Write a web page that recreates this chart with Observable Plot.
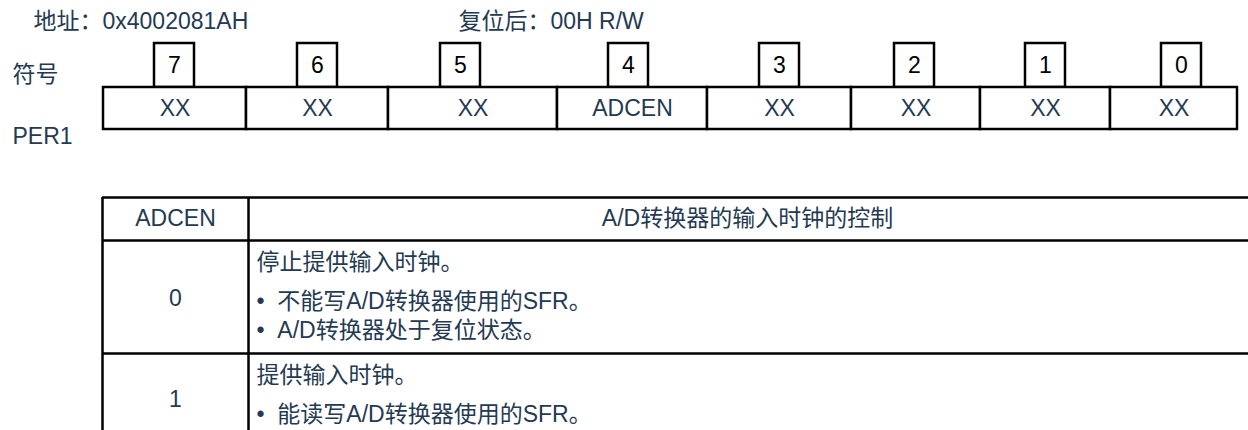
<!DOCTYPE html>
<html>
<head>
<meta charset="utf-8">
<script src="https://cdn.jsdelivr.net/npm/d3@7"></script>
<script src="https://cdn.jsdelivr.net/npm/@observablehq/plot@0.6"></script>
<style>
  html, body { margin: 0; padding: 0; background: #ffffff; }
  #chart { width: 1248px; height: 430px; overflow: hidden; }
</style>
</head>
<body>
<div id="chart"></div>
<script>
// ---------- data ----------
const bitNumbers = [7, 6, 5, 4, 3, 2, 1, 0];
const bitNames = ["XX", "XX", "XX", "ADCEN", "XX", "XX", "XX", "XX"];
const addressLabel = "地址：0x4002081AH";
const resetLabel = "复位后：00H R/W";
const symbolLabel = "符号";
const registerName = "PER1";
const tableHeaders = ["ADCEN", "A/D转换器的输入时钟的控制"];
const settingValues = ["0", "1"];
const settingTexts = [
  ["停止提供输入时钟。", "•\u00a0\u00a0不能写A/D转换器使用的SFR。", "•\u00a0\u00a0A/D转换器处于复位状态。"],
  ["提供输入时钟。", "•\u00a0\u00a0能读写A/D转换器使用的SFR。"]
];

// ---------- layout (pixels in diagram units) ----------
const W = 1248, H = 430;
const cellEdges = [103, 246, 388, 557, 707, 851, 980, 1110, 1237];
const boxCenters = [174, 317, 460, 628, 779, 914, 1045, 1181];
const boxHalf = 20, boxTop = 43, regTop = 87, regBottom = 129;
const tblLeft = 102, tblMid = 248, tblRight = 1262;
const tblHeadTop = 197, tblHeadBottom = 240;
const rowEdges = [240, 353, 441];
const lineOffsets = [22, 61, 90];
const FONT = "'Liberation Sans', Arial, 'Noto Sans CJK SC', sans-serif";
const TXT = "#243a52";
const FS = 23;

// ---------- derived tables ----------
const cells = bitNames.map((name, i) => ({
  x1: cellEdges[i], x2: cellEdges[i + 1], name, xc: (cellEdges[i] + cellEdges[i + 1]) / 2
}));
const boxes = bitNumbers.map((b, i) => ({ bit: String(b), xc: boxCenters[i] }));
const hLines = [tblHeadTop, tblHeadBottom, ...rowEdges.slice(1)];
const valueLabels = settingValues.map((v, i) => ({
  v, y: (rowEdges[i] + rowEdges[i + 1]) / 2 + 2
}));
const descLines = settingTexts.flatMap((lines, r) =>
  lines.map((t, k) => ({ t, y: rowEdges[r] + lineOffsets[k] }))
);
const topTexts = [
  { t: addressLabel, x: 33, y: 21 },
  { t: resetLabel, x: 458, y: 21 },
  { t: symbolLabel, x: 12, y: 74 },
  { t: registerName, x: 12, y: 136 }
];

const chart = Plot.plot({
  width: W,
  height: H,
  margin: 0,
  x: { domain: [0, W], range: [0, W], axis: null },
  y: { domain: [0, H], range: [0, H], axis: null },
  style: { background: "#ffffff", fontFamily: FONT, overflow: "hidden" },
  marks: [
    // register bit-number boxes
    Plot.rect(boxes, {
      x1: d => d.xc - boxHalf, x2: d => d.xc + boxHalf,
      y1: boxTop, y2: regTop,
      fill: "#ffffff", stroke: "#000000", strokeWidth: 2.5
    }),
    // register cells
    Plot.rect(cells, {
      x1: "x1", x2: "x2", y1: regTop, y2: regBottom,
      fill: "#ffffff", stroke: "#000000", strokeWidth: 2.5
    }),
    Plot.text(boxes, {
      x: "xc", y: (boxTop + regTop) / 2, text: "bit",
      fontSize: FS, fontFamily: FONT, fill: "#000000", lineAnchor: "middle"
    }),
    Plot.text(cells, {
      x: "xc", y: (regTop + regBottom) / 2, text: "name",
      fontSize: FS, fontFamily: FONT, fill: TXT, lineAnchor: "middle"
    }),
    Plot.text(topTexts, {
      x: "x", y: "y", text: "t", textAnchor: "start",
      fontSize: FS, fontFamily: FONT, fill: TXT, lineAnchor: "middle"
    }),
    // table grid
    Plot.ruleY(hLines, { x1: tblLeft, x2: tblRight, stroke: "#000000", strokeWidth: 2.5 }),
    Plot.ruleX([tblLeft, tblMid], { y1: tblHeadTop, y2: H + 20, stroke: "#000000", strokeWidth: 2.5 }),
    // table header
    Plot.text([
      { t: tableHeaders[0], x: (tblLeft + tblMid) / 2 },
      { t: tableHeaders[1], x: (tblMid + 1246) / 2 }
    ], {
      x: "x", y: (tblHeadTop + tblHeadBottom) / 2, text: "t",
      fontSize: FS, fontFamily: FONT, fill: TXT, lineAnchor: "middle"
    }),
    Plot.text(valueLabels, {
      x: (tblLeft + tblMid) / 2, y: "y", text: "v",
      fontSize: FS, fontFamily: FONT, fill: TXT, lineAnchor: "middle"
    }),
    Plot.text(descLines, {
      x: 256, y: "y", text: "t", textAnchor: "start",
      fontSize: FS, fontFamily: FONT, fill: TXT, lineAnchor: "middle"
    })
  ]
});
document.getElementById("chart").appendChild(chart);
</script>
</body>
</html>
